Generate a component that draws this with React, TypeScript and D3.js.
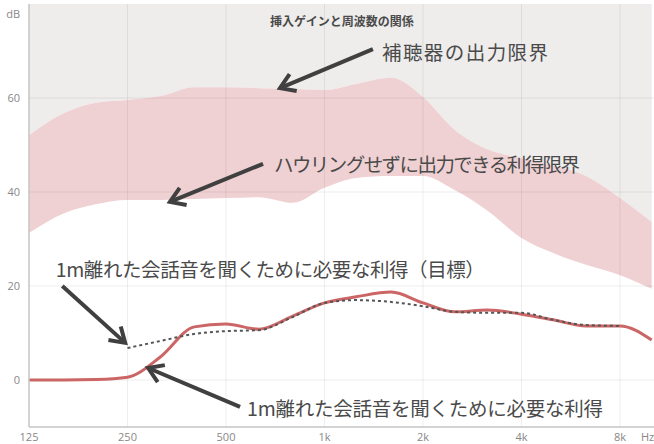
import React from "react";
import * as d3 from "d3";

// ---- data ----
const freqs = [125, 160, 200, 250, 315, 400, 500, 630, 800, 1000, 1250, 1600, 2000, 2500, 3150, 4000, 5000, 6300, 8000, 10000];
const outputLimit = [52.1, 56.8, 59.0, 59.6, 60.4, 62.3, 62.3, 62.1, 61.9, 61.7, 63.0, 64.3, 60.2, 53.2, 49.1, 47.2, 45.7, 43.4, 38.7, 33.6];
const howlingLimit = [31.3, 35.5, 37.4, 38.3, 38.3, 38.5, 38.7, 38.9, 37.7, 40.9, 43.0, 43.4, 43.4, 40.4, 36.0, 30.2, 27.0, 24.5, 22.3, 19.4];
const actualGain = [0, 0, 0.1, 0.6, 4.9, 11.3, 11.9, 10.8, 13.6, 16.4, 17.7, 18.7, 16.4, 14.5, 14.9, 14.0, 12.8, 11.5, 11.5, 8.5];
const targetFreqs = [250, 315, 400, 500, 630, 800, 1000, 1250, 1600, 2000, 2500, 3150, 4000, 5000, 6300, 8000];
const targetGain = [6.8, 8.3, 9.8, 10.4, 10.6, 13.4, 16.4, 17.0, 16.6, 15.7, 14.5, 14.3, 14.3, 12.8, 11.7, 11.5];
const xTicks = [125, 250, 500, 1000, 2000, 4000, 8000];
const xTickLabels = ["125", "250", "500", "1k", "2k", "4k", "8k"];
const yTicks = [0, 20, 40, 60];
const title = "挿入ゲインと周波数の関係";

// annotations in data units: [freq, dB]
const annotations = [
  { text: "補聴器の出力限界", at: [1499, 68.1], len: 166, from: [1406, 70.4], to: [731, 62.1] },
  { text: "ハウリングせずに出力できる利得限界", at: [701, 44.3], len: 306, from: [649, 46], to: [337, 37.9] },
  { text: "1m離れた会話音を聞くために必要な利得（目標）", at: [151, 21.9], len: 429, from: [158, 20], to: [246, 7.9] },
  { text: "1m離れた会話音を聞くために必要な利得", at: [580, -7.7], len: 356, from: [552, -5.7], to: [289, 2.55] },
];

const W = 654, H = 444;
const left = 29, right = 654.5, top = 4, bottom = 427;

export default function App() {
  const x = d3.scaleLog().domain([125, 10200]).range([left, right]);
  const y = d3.scaleLinear().domain([-10, 80]).range([bottom, top]);

  const band = freqs.map((f, i) => ({ f, lo: howlingLimit[i], hi: outputLimit[i] }));
  const grayArea = d3.area<any>().x(d => x(d.f)).y0(d => y(d.hi)).y1(y(80)).curve(d3.curveMonotoneX)(band) || "";
  const pinkArea = d3.area<any>().x(d => x(d.f)).y0(d => y(d.lo)).y1(d => y(d.hi)).curve(d3.curveMonotoneX)(band) || "";
  const lineGen = d3.line<[number, number]>().x(d => x(d[0])).y(d => y(d[1])).curve(d3.curveMonotoneX);
  const actualPath = lineGen(freqs.map((f, i) => [f, actualGain[i]] as [number, number])) || "";
  const targetPath = lineGen(targetFreqs.map((f, i) => [f, targetGain[i]] as [number, number])) || "";

  const font = "'Noto Sans CJK JP', 'Noto Sans', sans-serif";
  const tickFont = "'Open Sans', 'Noto Sans', sans-serif";

  const arrow = (a: any, k: number) => {
    const x1 = x(a.from[0]), y1 = y(a.from[1]);
    const x2 = x(a.to[0]), y2 = y(a.to[1]);
    const ang = Math.atan2(y2 - y1, x2 - x1);
    const L = 17, sp = Math.PI / 5.5;
    const p1 = [x2 - L * Math.cos(ang - sp), y2 - L * Math.sin(ang - sp)];
    const p2 = [x2 - L * Math.cos(ang + sp), y2 - L * Math.sin(ang + sp)];
    return (
      <g key={"a" + k} stroke="#404040" strokeWidth={4} fill="none" strokeLinecap="butt" strokeLinejoin="miter">
        <line x1={x1} y1={y1} x2={x2} y2={y2} />
        <polyline points={`${p1[0]},${p1[1]} ${x2},${y2} ${p2[0]},${p2[1]}`} />
      </g>
    );
  };

  return (
    <svg width={W} height={H} style={{ position: "absolute", left: 0, top: 0, background: "#fff" }}>
      <defs>
        <clipPath id="plot">
          <rect x={left} y={top} width={right - left} height={bottom - top} />
        </clipPath>
      </defs>
      <g clipPath="url(#plot)">
        <path d={grayArea} fill="#eeedec" />
        <path d={pinkArea} fill="#f0d1d3" />
        {xTicks.slice(1).map(t => (
          <line key={"gx" + t} x1={x(t)} x2={x(t)} y1={top} y2={bottom} stroke="rgba(0,0,0,0.07)" strokeWidth={1} />
        ))}
        {yTicks.map(t => (
          <line key={"gy" + t} x1={left} x2={right} y1={y(t)} y2={y(t)} stroke="rgba(0,0,0,0.07)" strokeWidth={1} />
        ))}
        <path d={actualPath} fill="none" stroke="#cc6666" strokeWidth={3} />
        <path d={targetPath} fill="none" stroke="#555" strokeWidth={2} strokeDasharray="3,3" />
      </g>
      <line x1={left} x2={left} y1={top} y2={bottom} stroke="#c4c4c4" strokeWidth={1.5} />
      <line x1={left} x2={W} y1={bottom} y2={bottom} stroke="#c4c4c4" strokeWidth={1.5} />
      {yTicks.map(t => (
        <text key={"ty" + t} x={20} y={y(t) + 4} textAnchor="end" fontSize={11} fill="#888" fontFamily={tickFont}>{t}</text>
      ))}
      <text x={20} y={18} textAnchor="end" fontSize={11} fill="#888" fontFamily={tickFont}>dB</text>
      {xTicks.map((t, i) => (
        <text key={"tx" + t} x={x(t)} y={441} textAnchor="middle" fontSize={11} fill="#888" fontFamily={tickFont}>{xTickLabels[i]}</text>
      ))}
      <text x={641} y={441} fontSize={11} fill="#888" fontFamily={tickFont}>Hz</text>
      <text x={342} y={26} textAnchor="middle" fontSize={12} fontWeight={600} fill="#4a4a4a" fontFamily={font}>{title}</text>
      {annotations.map((a, k) => (
        <text key={"t" + k} x={x(a.at[0])} y={y(a.at[1])} fontSize={19.5} fill="#4a4a4a" fontFamily={font} textLength={a.len} lengthAdjust="spacing">{a.text}</text>
      ))}
      {annotations.map((a, k) => arrow(a, k))}
    </svg>
  );
}
